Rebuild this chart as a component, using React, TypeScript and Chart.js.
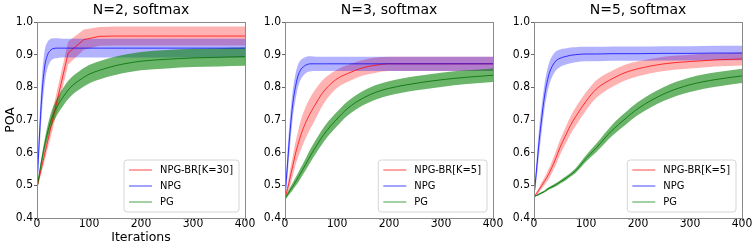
import React, { useEffect, useRef } from "react";
import { Chart, registerables } from "chart.js";

Chart.register(...registerables);

// ---------- data ----------
const ITER = [0, 5, 10, 15, 20, 25, 30, 40, 50, 60, 70, 80, 100, 120, 150, 175, 200, 250, 300, 350, 400];
const ITER_BR30 = [0, 30, 60, 90, 120, 150, 180, 210, 240, 270, 300, 330, 360, 390, 400];

// Panel 1: N=2
const P1_BR = [0.494, 0.70, 0.905, 0.946, 0.956, 0.957, 0.957, 0.957, 0.957, 0.957, 0.957, 0.957, 0.957, 0.957, 0.957];
const P1_BR_SD = [0.008, 0.03, 0.035, 0.031, 0.029, 0.029, 0.029, 0.029, 0.029, 0.029, 0.029, 0.029, 0.029, 0.029, 0.029];
const P1_NPG = [0.495, 0.66, 0.79, 0.865, 0.898, 0.912, 0.918, 0.92, 0.92, 0.92, 0.92, 0.92, 0.92, 0.92, 0.92, 0.92, 0.92, 0.92, 0.92, 0.92, 0.92];
const P1_NPG_SD = [0.01, 0.05, 0.055, 0.05, 0.04, 0.035, 0.032, 0.03, 0.029, 0.029, 0.029, 0.029, 0.029, 0.029, 0.029, 0.029, 0.029, 0.029, 0.029, 0.029, 0.029];
const P1_PG = [0.49, 0.54, 0.585, 0.625, 0.66, 0.69, 0.712, 0.745, 0.77, 0.792, 0.808, 0.82, 0.84, 0.852, 0.866, 0.874, 0.88, 0.886, 0.89, 0.892, 0.894];
const P1_PG_SD = [0.005, 0.01, 0.014, 0.017, 0.02, 0.022, 0.024, 0.026, 0.027, 0.028, 0.028, 0.028, 0.028, 0.028, 0.028, 0.028, 0.028, 0.028, 0.028, 0.028, 0.028];

// Panel 2: N=3
const P2_BR = [0.463, 0.49, 0.525, 0.56, 0.596, 0.625, 0.652, 0.693, 0.725, 0.752, 0.778, 0.798, 0.826, 0.842, 0.86, 0.868, 0.872, 0.872, 0.872, 0.872, 0.872];
const P2_BR_SD = [0.005, 0.015, 0.025, 0.03, 0.035, 0.04, 0.045, 0.048, 0.048, 0.045, 0.04, 0.035, 0.028, 0.026, 0.024, 0.023, 0.022, 0.022, 0.022, 0.022, 0.022];
const P2_NPG = [0.463, 0.57, 0.67, 0.75, 0.80, 0.835, 0.853, 0.868, 0.872, 0.872, 0.872, 0.872, 0.872, 0.872, 0.872, 0.872, 0.872, 0.872, 0.872, 0.872, 0.872];
const P2_NPG_SD = [0.01, 0.04, 0.045, 0.042, 0.04, 0.035, 0.03, 0.025, 0.023, 0.022, 0.022, 0.022, 0.022, 0.022, 0.022, 0.022, 0.022, 0.022, 0.022, 0.022, 0.022];
const P2_PG = [0.46, 0.472, 0.485, 0.497, 0.51, 0.523, 0.537, 0.565, 0.594, 0.62, 0.645, 0.667, 0.703, 0.735, 0.767, 0.785, 0.797, 0.812, 0.823, 0.831, 0.837];
const P2_PG_SD = [0.005, 0.007, 0.009, 0.011, 0.013, 0.015, 0.016, 0.018, 0.02, 0.021, 0.022, 0.022, 0.022, 0.022, 0.022, 0.022, 0.022, 0.022, 0.022, 0.021, 0.021];

// Panel 3: N=5
const P3_BR = [0.465, 0.475, 0.487, 0.5, 0.512, 0.525, 0.54, 0.575, 0.616, 0.65, 0.683, 0.71, 0.757, 0.795, 0.826, 0.845, 0.857, 0.872, 0.879, 0.884, 0.887];
const P3_BR_SD = [0.003, 0.005, 0.008, 0.01, 0.012, 0.014, 0.016, 0.02, 0.023, 0.025, 0.027, 0.028, 0.028, 0.027, 0.025, 0.024, 0.023, 0.022, 0.021, 0.02, 0.02];
const P3_NPG = [0.465, 0.55, 0.637, 0.708, 0.77, 0.815, 0.846, 0.877, 0.889, 0.894, 0.898, 0.9, 0.902, 0.902, 0.903, 0.903, 0.903, 0.904, 0.904, 0.905, 0.905];
const P3_NPG_SD = [0.005, 0.03, 0.04, 0.04, 0.038, 0.036, 0.034, 0.03, 0.027, 0.025, 0.024, 0.023, 0.022, 0.022, 0.022, 0.022, 0.022, 0.022, 0.022, 0.022, 0.022];
const P3_PG = [0.465, 0.469, 0.473, 0.477, 0.481, 0.487, 0.492, 0.5, 0.51, 0.52, 0.532, 0.545, 0.582, 0.615, 0.668, 0.703, 0.735, 0.78, 0.808, 0.824, 0.835];
const P3_PG_SD = [0.002, 0.002, 0.003, 0.003, 0.003, 0.004, 0.004, 0.005, 0.005, 0.006, 0.006, 0.007, 0.01, 0.013, 0.017, 0.019, 0.02, 0.021, 0.022, 0.022, 0.022];

const TITLES = ["N=2, softmax", "N=3, softmax", "N=5, softmax"];
const BR_LABELS = ["NPG-BR[K=30]", "NPG-BR[K=5]", "NPG-BR[K=5]"];
const X_TICKS = [0, 100, 200, 300, 400];
const Y_TICKS = [0.4, 0.5, 0.6, 0.7, 0.8, 0.9, 1.0];

// ---------- styles ----------
const RED = { line: "rgba(255,0,0,0.75)", band: "rgba(255,0,0,0.3)", legend: "rgba(255,0,0,0.6)" };
const BLUE = { line: "rgba(0,0,255,0.75)", band: "rgba(0,0,255,0.3)", legend: "rgba(0,0,255,0.6)" };
const GREEN = { line: "rgba(0,110,0,0.8)", band: "rgba(0,128,0,0.58)", legend: "rgba(0,128,0,0.6)" };
const FONT = "'DejaVu Sans', sans-serif";
const FONT_C = "'DejaVu Sans Condensed', 'DejaVu Sans', sans-serif";

type Series = {
  label: string;
  x: number[];
  mean: number[];
  sd: number[];
  col: { line: string; band: string; legend: string };
  smooth: boolean;
};

type Panel = {
  title: string;
  series: Series[];
  padLeft: number;
  padRight: number;
  yWidth: number;
  yLabel: boolean;
  xLabel: boolean;
};

const PANELS: Panel[] = [
  {
    title: TITLES[0],
    series: [
      { label: BR_LABELS[0], x: ITER_BR30, mean: P1_BR, sd: P1_BR_SD, col: RED, smooth: false },
      { label: "NPG", x: ITER, mean: P1_NPG, sd: P1_NPG_SD, col: BLUE, smooth: true },
      { label: "PG", x: ITER, mean: P1_PG, sd: P1_PG_SD, col: GREEN, smooth: true },
    ],
    padLeft: 0,
    padRight: 756 - 245,
    yWidth: 37,
    yLabel: true,
    xLabel: true,
  },
  {
    title: TITLES[1],
    series: [
      { label: BR_LABELS[1], x: ITER, mean: P2_BR, sd: P2_BR_SD, col: RED, smooth: true },
      { label: "NPG", x: ITER, mean: P2_NPG, sd: P2_NPG_SD, col: BLUE, smooth: true },
      { label: "PG", x: ITER, mean: P2_PG, sd: P2_PG_SD, col: GREEN, smooth: true },
    ],
    padLeft: 250,
    padRight: 756 - 493,
    yWidth: 35,
    yLabel: false,
    xLabel: false,
  },
  {
    title: TITLES[2],
    series: [
      { label: BR_LABELS[2], x: ITER, mean: P3_BR, sd: P3_BR_SD, col: RED, smooth: true },
      { label: "NPG", x: ITER, mean: P3_NPG, sd: P3_NPG_SD, col: BLUE, smooth: true },
      { label: "PG", x: ITER, mean: P3_PG, sd: P3_PG_SD, col: GREEN, smooth: true },
    ],
    padLeft: 500,
    padRight: 756 - 742,
    yWidth: 34,
    yLabel: false,
    xLabel: false,
  },
];

function buildDatasets(series: Series[]) {
  const ds: any[] = [];
  series.forEach((s, i) => {
    const interp = s.smooth ? { cubicInterpolationMode: "monotone" } : { tension: 0 };
    ds.push({
      label: s.label + "_hi",
      data: s.x.map((x, j) => ({ x, y: s.mean[j] + s.sd[j] })),
      borderWidth: 0,
      borderColor: "rgba(0,0,0,0)",
      pointRadius: 0,
      backgroundColor: s.col.band,
      fill: "+1",
      order: 100 - i * 10,
      ...interp,
    });
    ds.push({
      label: s.label + "_lo",
      data: s.x.map((x, j) => ({ x, y: s.mean[j] - s.sd[j] })),
      borderWidth: 0,
      borderColor: "rgba(0,0,0,0)",
      pointRadius: 0,
      fill: false,
      order: 99 - i * 10,
      ...interp,
    });
  });
  series.forEach((s, i) => {
    const interp = s.smooth ? { cubicInterpolationMode: "monotone" } : { tension: 0 };
    ds.push({
      label: s.label,
      data: s.x.map((x, j) => ({ x, y: s.mean[j] })),
      borderWidth: 1,
      borderColor: s.col.line,
      pointRadius: 0,
      fill: false,
      order: 5 - i,
      ...interp,
    });
  });
  return ds;
}

function makeDecor(panel: Panel) {
  return {
    id: "decor",
    afterDraw(chart: any) {
      const { ctx, chartArea: ca } = chart;
      ctx.save();
      // spines
      ctx.strokeStyle = "#8a8a8a";
      ctx.lineWidth = 1;
      ctx.strokeRect(Math.round(ca.left) + 0.5, Math.round(ca.top) + 0.5, Math.round(ca.right - ca.left), Math.round(ca.bottom - ca.top));
      // title
      ctx.fillStyle = "#000";
      ctx.font = `14px ${FONT}`;
      ctx.textAlign = "center";
      ctx.textBaseline = "alphabetic";
      ctx.fillText(panel.title, (ca.left + ca.right) / 2, ca.top - 8.5);
      // legend
      ctx.font = `11px ${FONT_C}`;
      const tw = Math.max(...panel.series.map((s) => ctx.measureText(s.label).width));
      const bw = 36 + tw + 6;
      const bh = 52;
      const bx = ca.right - 6 - bw;
      const by = ca.bottom - 6 - bh;
      ctx.beginPath();
      const r = 3;
      ctx.moveTo(bx + r, by);
      ctx.lineTo(bx + bw - r, by);
      ctx.quadraticCurveTo(bx + bw, by, bx + bw, by + r);
      ctx.lineTo(bx + bw, by + bh - r);
      ctx.quadraticCurveTo(bx + bw, by + bh, bx + bw - r, by + bh);
      ctx.lineTo(bx + r, by + bh);
      ctx.quadraticCurveTo(bx, by + bh, bx, by + bh - r);
      ctx.lineTo(bx, by + r);
      ctx.quadraticCurveTo(bx, by, bx + r, by);
      ctx.closePath();
      ctx.fillStyle = "rgba(255,255,255,0.85)";
      ctx.fill();
      ctx.strokeStyle = "#d6d6d6";
      ctx.lineWidth = 1;
      ctx.stroke();
      panel.series.forEach((s, i) => {
        const y = by + 10 + i * 16;
        ctx.strokeStyle = s.col.legend;
        ctx.lineWidth = 1.2;
        ctx.beginPath();
        ctx.moveTo(bx + 5, y);
        ctx.lineTo(bx + 28, y);
        ctx.stroke();
        ctx.fillStyle = "#000";
        ctx.textAlign = "left";
        ctx.textBaseline = "middle";
        ctx.fillText(s.label, bx + 36, y + 0.5);
      });
      ctx.restore();
    },
  };
}

function PanelChart({ panel }: { panel: Panel }) {
  const ref = useRef<HTMLCanvasElement | null>(null);
  useEffect(() => {
    if (!ref.current) return;
    const chart = new Chart(ref.current, {
      type: "line",
      data: { datasets: buildDatasets(panel.series) },
      options: {
        animation: false,
        responsive: false,
        devicePixelRatio: 1,
        events: [],
        layout: { padding: { left: panel.padLeft, right: panel.padRight, top: 22, bottom: 0 } },
        plugins: {
          legend: { display: false },
          title: { display: false },
          tooltip: { enabled: false },
          filler: { drawTime: "beforeDatasetDraw" },
        },
        scales: {
          x: {
            type: "linear",
            min: 0,
            max: 400,
            afterBuildTicks: (s: any) => {
              s.ticks = X_TICKS.map((v) => ({ value: v }));
            },
            afterFit: (s: any) => {
              s.height = 30;
            },
            ticks: {
              color: "#000",
              font: { size: 12, family: FONT_C },
              padding: -4,
              maxRotation: 0,
              autoSkip: false,
            },
            grid: { drawOnChartArea: false, drawTicks: true, tickLength: 3, color: "#666" },
            border: { display: false },
            title: {
              display: panel.xLabel,
              text: "Iterations",
              color: "#000",
              font: { size: 12.5, family: FONT },
              padding: { top: 0, bottom: 3 },
            },
          },
          y: {
            type: "linear",
            min: 0.4,
            max: 1.0,
            afterBuildTicks: (s: any) => {
              s.ticks = Y_TICKS.map((v) => ({ value: v }));
            },
            afterFit: (s: any) => {
              s.width = panel.yWidth;
            },
            ticks: {
              color: "#000",
              font: { size: 12, family: FONT_C },
              padding: 1,
              callback: (v: any) => Number(v).toFixed(1),
            },
            grid: { drawOnChartArea: false, drawTicks: true, tickLength: 3, color: "#666" },
            border: { display: false },
            title: {
              display: panel.yLabel,
              text: "POA",
              color: "#000",
              font: { size: 12.5, family: FONT },
              padding: { top: 3, bottom: 0 },
            },
          },
        },
      } as any,
      plugins: [makeDecor(panel)],
    });
    return () => chart.destroy();
  }, [panel]);
  return (
    <canvas
      ref={ref}
      width={756}
      height={248}
      style={{ position: "absolute", left: 0, top: 0, width: 756, height: 248 }}
    />
  );
}

export default function App() {
  return (
    <div style={{ position: "fixed", left: 0, top: 0, width: 756, height: 248, background: "#fff" }}>
      {PANELS.map((p, i) => (
        <PanelChart key={i} panel={p} />
      ))}
    </div>
  );
}
